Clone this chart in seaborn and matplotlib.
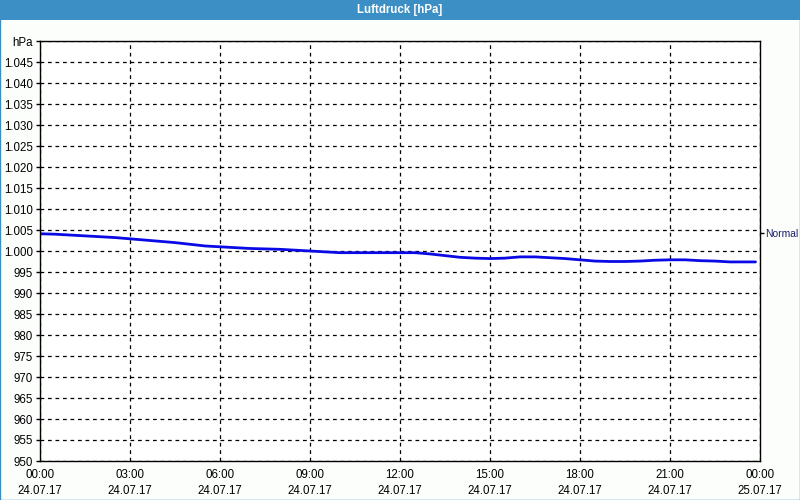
import matplotlib
matplotlib.use("Agg")
import matplotlib.pyplot as plt
import seaborn as sns
import pandas as pd
from matplotlib.patches import Rectangle

# ---- data ----
hours = [0.0, 0.5, 1.0, 1.5, 2.0, 2.5, 3.0, 3.5, 4.0, 4.5, 5.0, 5.5, 6.0, 6.5,
         7.0, 7.5, 8.0, 8.5, 9.0, 9.5, 10.0, 10.5, 11.0, 11.5, 12.0, 12.5,
         13.0, 13.5, 14.0, 14.5, 15.0, 15.5, 16.0, 16.5, 17.0, 17.5, 18.0,
         18.5, 19.0, 19.5, 20.0, 20.5, 21.0, 21.5, 22.0, 22.5, 23.0, 23.5, 23.85]
pressure = [1004.1, 1004.0, 1003.8, 1003.6, 1003.4, 1003.2, 1002.9, 1002.6,
            1002.3, 1002.0, 1001.6, 1001.2, 1001.0, 1000.8, 1000.6, 1000.5,
            1000.4, 1000.2, 1000.0, 999.8, 999.6, 999.6, 999.6, 999.6, 999.6,
            999.6, 999.3, 998.9, 998.5, 998.3, 998.2, 998.3, 998.6, 998.6,
            998.4, 998.2, 997.9, 997.6, 997.5, 997.5, 997.6, 997.8, 997.9,
            997.9, 997.7, 997.6, 997.4, 997.4, 997.4]
y_ticks = [950, 955, 960, 965, 970, 975, 980, 985, 990, 995, 1000, 1005,
           1010, 1015, 1020, 1025, 1030, 1035, 1040, 1045, 1050]
x_ticks = [0, 3, 6, 9, 12, 15, 18, 21, 24]
x_labels = ["00:00\n24.07.17", "03:00\n24.07.17", "06:00\n24.07.17",
            "09:00\n24.07.17", "12:00\n24.07.17", "15:00\n24.07.17",
            "18:00\n24.07.17", "21:00\n24.07.17", "00:00\n25.07.17"]
normal_value = 1004.3
title = "Luftdruck [hPa]"

df = pd.DataFrame({"hour": hours, "hPa": pressure})

sns.set_style("white")
plt.rcParams['font.family'] = ['Liberation Sans', 'DejaVu Sans']

fs = 8.3
bg = "#fcfefc"
bar_col = "#3c8fc5"
fig = plt.figure(figsize=(8, 5), dpi=100, facecolor=bg)
ax = fig.add_axes([0.05, 0.078, 0.90, 0.84])
ax.set_facecolor("white")

sns.lineplot(data=df, x="hour", y="hPa", ax=ax, color="#0a0ae6", linewidth=2)

ax.set_xlim(0, 24)
ax.set_ylim(950, 1050)
ax.set_xticks(x_ticks)
ax.set_xticklabels(x_labels, fontsize=fs, linespacing=1.45)
ax.set_xticks(range(0, 25), minor=True)
ax.set_yticks(y_ticks)
ylabels = [("{:.3f}".format(v / 1000.0) if v >= 1000 else str(v)) for v in y_ticks]
ylabels[-1] = "hPa"
ax.set_yticklabels(ylabels, fontsize=fs)
ax.set_xlabel("")
ax.set_ylabel("")

ax.tick_params(axis="both", which="major", direction="out", length=3,
               width=1, color="black", pad=2, labelcolor="black")
ax.tick_params(axis="x", which="minor", direction="out", length=3, width=1,
               color="black")
ax.tick_params(axis="x", which="major", pad=3)

ax.grid(True, which="major", color="black", linestyle=(0, (3, 3)), linewidth=0.9)
for s in ax.spines.values():
    s.set_visible(True)
    s.set_color("black")
    s.set_linewidth(1)

# "Normal" marker on right side
ax2 = ax.twinx()
ax2.set_ylim(950, 1050)
ax2.set_yticks([normal_value])
ax2.set_yticklabels(["Normal"], fontsize=7.4, color="#1c1c6c")
ax2.tick_params(axis="y", direction="out", length=3, width=1, color="black", pad=0.5)
for s in ax2.spines.values():
    s.set_visible(False)

# title bar and frame
fig.patches.append(Rectangle((0, 1 - 20 / 500), 1, 20 / 500, transform=fig.transFigure,
                             facecolor=bar_col, edgecolor="none", zorder=0))
fig.patches.append(Rectangle((0.0006, 0.001), 0.9988, 0.998, transform=fig.transFigure,
                             facecolor="none", edgecolor=bar_col, linewidth=1.0, zorder=5))
fig.text(0.5, 1 - 10 / 500, title, color="white", fontsize=fs, fontweight="bold",
         ha="center", va="center")

fig.savefig("out.png", dpi=100, facecolor=bg)
